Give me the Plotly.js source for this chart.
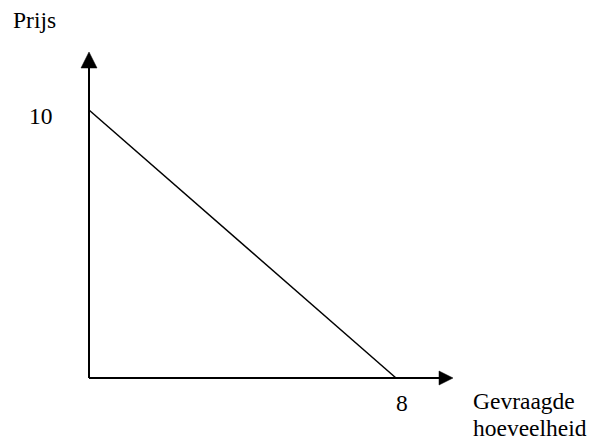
<!DOCTYPE html>
<html>
<head>
<meta charset="utf-8">
<script src="https://cdn.plot.ly/plotly-3.0.1.min.js"></script>
<style>html,body{margin:0;padding:0;background:#fff;}#chart{width:598px;height:447px;}</style>
</head>
<body>
<div id="chart"></div>
<script>
// Data
const quantity = [0, 8];
const price = [10, 0];
const xTickLabels = ["8"];
const yTickLabels = ["10"];
const xTickValues = [8];
const yTickValues = [10];
const yAxisLabel = "Prijs";
const xAxisLabel = ["Gevraagde", "hoeveelheid"];

// Pixel geometry (page is 598x447, margins 0)
const W = 598, H = 447;
const ox = 89, oy = 378;          // origin in px
const xPerUnit = (396 - 89) / 8;   // px per quantity unit
const yPerUnit = (378 - 110) / 10; // px per price unit
const xRange = [-ox / xPerUnit, (W - ox) / xPerUnit];
const yRange = [-(H - oy) / yPerUnit, oy / yPerUnit];
const dx = px => px / xPerUnit;
const dy = px => px / yPerUnit;

const font = "Times New Roman, Liberation Serif, Tinos, DejaVu Serif, serif";
const fs = 23.5;

// Axis end points in data units
const yTip = dy(oy - 52), yBase = dy(oy - 68), yHalf = dx(8);
const xTip = dx(453 - ox), xBase = dx(439 - ox), xHalf = dy(7);

const shapes = [
  {type: 'line', xref: 'x', yref: 'y', x0: 0, y0: 0, x1: 0, y1: yBase + dy(1), line: {color: '#000', width: 2}},
  {type: 'line', xref: 'x', yref: 'y', x0: 0, y0: 0, x1: xBase + dx(1), y1: 0, line: {color: '#000', width: 2}},
  {type: 'path', xref: 'x', yref: 'y',
   path: `M ${-yHalf} ${yBase} L ${yHalf} ${yBase} L 0 ${yTip} Z`,
   fillcolor: '#000', line: {color: '#000', width: 0.5}},
  {type: 'path', xref: 'x', yref: 'y',
   path: `M ${xBase} ${-xHalf} L ${xBase} ${xHalf} L ${xTip} 0 Z`,
   fillcolor: '#000', line: {color: '#000', width: 0.5}}
];

const annotations = [];
yTickValues.forEach((v, i) => annotations.push({
  xref: 'x', yref: 'y', x: dx(55 - ox), y: v - dy(6), text: yTickLabels[i],
  showarrow: false, xanchor: 'right', yanchor: 'middle', font: {family: font, size: fs, color: '#000'}
}));
xTickValues.forEach((v, i) => annotations.push({
  xref: 'x', yref: 'y', x: v + dx(6), y: -dy(25), text: xTickLabels[i],
  showarrow: false, xanchor: 'center', yanchor: 'middle', font: {family: font, size: fs, color: '#000'}
}));
annotations.push({
  xref: 'paper', yref: 'paper', x: 11 / W, y: 1 - 20 / H, text: yAxisLabel,
  showarrow: false, xanchor: 'left', yanchor: 'middle', font: {family: font, size: fs, color: '#000'}
});
xAxisLabel.forEach((t, i) => annotations.push({
  xref: 'paper', yref: 'paper', x: 471 / W, y: 1 - (401 + 27 * i) / H, text: t,
  showarrow: false, xanchor: 'left', yanchor: 'middle', font: {family: font, size: fs, color: '#000'}
}));

const traces = [{
  type: 'scatter', mode: 'lines', x: quantity, y: price,
  line: {color: '#000', width: 1.5}, hoverinfo: 'skip', showlegend: false
}];

const layout = {
  width: W, height: H,
  margin: {l: 0, r: 0, t: 0, b: 0, pad: 0},
  paper_bgcolor: '#fff', plot_bgcolor: '#fff',
  showlegend: false,
  font: {family: font},
  xaxis: {range: xRange, visible: false, fixedrange: true},
  yaxis: {range: yRange, visible: false, fixedrange: true},
  shapes: shapes,
  annotations: annotations
};

Plotly.newPlot('chart', traces, layout, {displayModeBar: false, staticPlot: true});
</script>
</body>
</html>
